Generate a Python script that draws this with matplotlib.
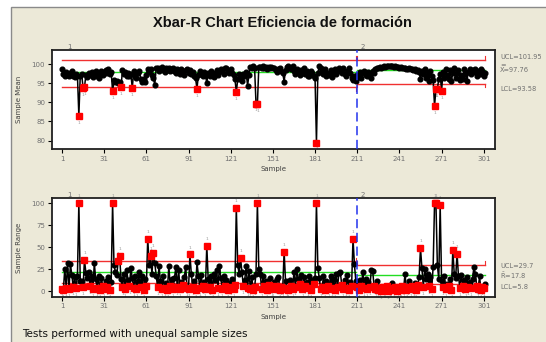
import numpy as np
import matplotlib
matplotlib.use('Agg')
import matplotlib.pyplot as plt
from matplotlib.patches import Rectangle

# subgroup means (samples 1..302), stage 1 = 1..210, stage 2 = 211..302
means = [
    98.6, 97.4, 96.8, 97.9, 97.2, 96.9, 97.6, 98.1, 97.0, 96.6,
    97.3, 96.9, 86.5, 97.0, 97.4, 93.8, 93.9, 97.2, 96.7, 97.8,
    97.1, 98.0, 96.6, 97.5, 98.2, 97.0, 96.4, 97.7, 98.3, 97.1,
    97.9, 98.4, 97.6, 98.6, 97.3, 97.9, 92.9, 95.8, 95.2, 95.6,
    95.0, 95.4, 93.9, 98.4, 97.3, 98.0, 96.8, 97.7, 96.9, 97.5,
    93.7, 98.1, 97.0, 96.5, 97.6, 98.2, 96.2, 95.4, 96.0, 95.3,
    97.2, 98.6, 97.9, 98.8, 97.1, 96.3, 94.6, 98.9, 99.1, 98.3,
    98.7, 99.2, 98.4, 98.0, 98.9, 98.5, 99.0, 98.2, 98.7, 99.1,
    98.3, 97.6, 98.8, 98.1, 97.4, 98.6, 97.9, 97.2, 98.4, 98.8,
    97.7, 98.5, 97.3, 98.0, 96.9, 96.4, 93.5, 97.1, 98.2, 97.4,
    96.8, 97.9, 97.2, 95.0, 97.6, 96.9, 98.1, 97.3, 96.7, 97.8,
    98.4, 97.2, 97.9, 98.7, 98.1, 97.5, 98.9, 99.0, 98.3, 97.6,
    98.6, 97.8, 97.1, 96.2, 92.7, 96.0, 97.3, 96.3, 95.6, 97.4,
    96.8, 97.9, 94.4, 97.1, 99.3, 99.1, 99.4, 99.0, 89.7, 89.6,
    99.2, 99.3, 98.9, 99.4, 99.1, 99.2, 98.8, 99.3, 99.0, 99.2,
    98.9, 99.1, 98.4, 98.0, 98.7, 99.0, 98.2, 97.8, 95.4, 98.5,
    99.3, 99.5, 99.1, 98.6, 99.4, 98.2, 97.5, 98.8, 98.0, 97.2,
    98.4, 97.7, 98.9, 97.4, 98.1, 97.0, 96.9, 98.3, 97.6, 96.8,
    96.5, 79.5, 97.6, 99.6, 98.9, 98.2, 97.3, 98.6, 96.9, 97.8,
    97.1, 98.4, 96.7, 97.9, 98.8, 97.3, 98.1, 99.0, 98.5, 97.6,
    98.9, 97.4, 96.8, 98.2, 99.1, 97.7, 96.3, 95.8, 97.0, 95.6,
    97.2, 96.6, 97.9, 96.4, 97.6, 98.3, 97.1, 96.8, 98.0, 97.4,
    96.5, 98.1, 97.8, 98.6, 98.9, 99.1, 99.2, 99.0, 99.3, 99.4,
    99.3, 99.5, 99.4, 99.5, 99.4, 99.5, 99.3, 99.4, 99.2, 99.3,
    99.1, 99.2, 99.0, 98.9, 99.0, 98.8, 98.7, 98.9, 98.6, 98.7,
    98.5, 98.6, 98.2, 98.4, 97.9, 96.0, 98.3, 97.5, 98.6, 96.4,
    97.8, 95.6, 98.1, 96.9, 95.8, 89.0, 93.6, 93.4, 96.2, 97.5,
    93.0, 97.9, 96.5, 98.8, 97.2, 96.0, 98.5, 95.7, 97.6, 98.9,
    96.3, 97.8, 98.4, 95.9, 97.1, 96.2, 98.6, 97.4, 95.5, 98.0,
    98.7, 97.3, 98.5, 97.9, 98.8, 96.8, 98.1, 97.5, 98.6, 98.2,
    97.0, 97.6,
]

# subgroup ranges
ranges = [
    3, 2, 26, 4, 32, 3, 31, 19, 5, 16,
    4, 18, 100, 12, 12, 5, 36, 21, 15, 22,
    6, 18, 3, 32, 14, 4, 17, 2, 15, 6,
    3, 12, 5, 16, 2, 11, 100, 30, 22, 19,
    35, 40, 14, 5, 20, 3, 24, 13, 6, 27,
    15, 4, 18, 3, 12, 22, 5, 17, 2, 14,
    6, 60, 30, 40, 20, 44, 32, 18, 5, 29,
    12, 3, 17, 4, 10, 2, 29, 6, 14, 3,
    15, 28, 5, 24, 3, 11, 7, 16, 28, 4,
    3, 42, 20, 5, 12, 2, 33, 18, 4, 19,
    6, 11, 3, 52, 14, 5, 17, 2, 20, 13,
    24, 4, 29, 15, 3, 18, 6, 13, 2, 10,
    5, 14, 3, 7, 95, 30, 20, 38, 22, 6,
    13, 29, 4, 23, 3, 16, 2, 5, 20, 100,
    25, 20, 3, 17, 6, 12, 2, 7, 15, 4,
    3, 11, 6, 14, 16, 2, 5, 3, 45, 12,
    4, 2, 13, 6, 3, 22, 5, 26, 14, 8,
    19, 3, 16, 6, 11, 4, 17, 2, 13, 9,
    15, 100, 27, 15, 3, 5, 17, 2, 12, 6,
    3, 18, 4, 14, 2, 20, 5, 21, 22, 7,
    3, 13, 4, 19, 2, 11, 6, 60, 31, 12,
    5, 2, 13, 6, 22, 4, 14, 3, 11, 5,
    24, 23, 6, 3, 12, 2, 4, 1, 5, 3,
    2, 6, 1, 4, 3, 10, 2, 5, 1, 3,
    4, 2, 6, 3, 20, 2, 5, 12, 3, 6,
    4, 10, 2, 7, 16, 49, 27, 5, 26, 14,
    20, 6, 16, 3, 28, 100, 100, 30, 14, 98,
    12, 5, 17, 3, 9, 6, 14, 2, 47, 20,
    15, 43, 18, 4, 19, 6, 13, 3, 16, 5,
    11, 4, 14, 28, 20, 6, 3, 17, 2, 5,
    4, 9,
]

stage_end = 210
xbar_ucl = [101.2, 101.2]
xbar_cl = [97.9, 98.4]
xbar_lcl = [94.0, 94.9]
r_ucl = [34.2, 30.4]
r_cl = [22.0, 19.0]
r_lcl = [9.5, 8.4]

xticks = [1, 31, 61, 91, 121, 151, 181, 211, 241, 271, 301]

samples = np.arange(1, len(means) + 1)
stage = np.where(samples <= stage_end, 0, 1)
segments = [(1, stage_end), (stage_end + 1, len(samples))]

BEIGE = '#ECE9D8'
GRAY = '#707070'


def draw_chart(ax, vals, ucl, cl, lcl, ylim, yticks, ylabel):
    vals = np.array(vals, dtype=float)
    hi = vals > np.array(ucl)[stage]
    lo = vals < np.array(lcl)[stage]
    bad = hi | lo
    ax.plot(samples, vals, color='black', lw=1.1, zorder=3)
    ax.plot(samples[~bad], vals[~bad], 'o', color='black', ms=3.4, zorder=4)
    ax.plot(samples[bad], vals[bad], 's', color='red', ms=3.9, zorder=5)
    for s, v, up in zip(samples[bad], vals[bad], hi[bad]):
        ax.annotate('1', (s, v), xytext=(0, 5 if up else -5), textcoords='offset points',
                    fontsize=3.2, color='#999999', ha='center', va='center', zorder=2)

    tick = (ylim[1] - ylim[0]) * 0.035
    for i, (x0, x1) in enumerate(segments):
        ax.plot([x0, x1], [ucl[i], ucl[i]], color='#F03030', lw=1.0, zorder=2)
        ax.plot([x0, x1], [lcl[i], lcl[i]], color='#F03030', lw=1.0, zorder=2)
        ax.plot([x0, x1], [cl[i], cl[i]], color='#22DD22', lw=1.0, zorder=2)
        if i > 0:
            ax.plot([x0, x0], [ucl[i], ucl[i] + tick], color='#F03030', lw=0.8)
            ax.plot([x0, x0], [lcl[i], lcl[i] - tick], color='#F03030', lw=0.8)
        ax.plot([x1, x1], [ucl[i], ucl[i] + tick], color='#F03030', lw=0.8)
        ax.plot([x1, x1], [lcl[i], lcl[i] - tick], color='#F03030', lw=0.8)

    ax.axvline(stage_end + 0.5, color='#2233EE', lw=1.1, ls=(0, (6, 3)), zorder=6)
    ax.text(6, ylim[1], '1', fontsize=5, color=GRAY, ha='center', va='bottom')
    ax.text(stage_end + 5, ylim[1], '2', fontsize=5, color=GRAY, ha='center', va='bottom')

    ax.set_xlim(-6.1, 309)
    ax.set_ylim(*ylim)
    ax.set_xticks(xticks)
    ax.set_yticks(yticks)
    ax.tick_params(labelsize=5, labelcolor=GRAY, length=3, width=0.8, pad=2)
    ax.set_xlabel('Sample', fontsize=5, color='#404040', labelpad=3)
    ax.set_ylabel(ylabel, fontsize=5, color='#404040')
    ax.yaxis.set_label_coords(-30 / 443, 0.5)
    for sp in ax.spines.values():
        sp.set_linewidth(1.3)
        sp.set_color('#202020')
    ax.set_facecolor('white')


fig = plt.figure(figsize=(5.46, 3.42), dpi=100)
fig.patch.set_facecolor('white')
panel = Rectangle((11 / 546, -0.1), 1.2, 1 - 7 / 342 + 0.1, transform=fig.transFigure,
                  facecolor=BEIGE, edgecolor='#8A8A8A', lw=1.0, zorder=-10)
fig.patches.append(panel)

ax1 = fig.add_axes([52 / 546, 1 - 149 / 342, 443 / 546, 99 / 342])
ax2 = fig.add_axes([52 / 546, 1 - 296.5 / 342, 443 / 546, 98.2 / 342])

draw_chart(ax1, means, xbar_ucl, xbar_cl, xbar_lcl, (77.8, 103.7), [80, 85, 90, 95, 100], 'Sample Mean')
draw_chart(ax2, ranges, r_ucl, r_cl, r_lcl, (-5.7, 105.7), [0, 25, 50, 75, 100], 'Sample Range')

fig.text(282 / 546, 1 - 23 / 342, 'Xbar-R Chart Eficiencia de formación', ha='center', va='center',
         fontsize=10.5, fontweight='bold', family=['Liberation Sans', 'DejaVu Sans'], color='#111111')

lab = dict(fontsize=4.8, color=GRAY, ha='left', va='center')
fig.text(500 / 546, 1 - 57 / 342, 'UCL=101.95', **lab)
fig.text(500 / 546, 1 - 65 / 342, '=', **lab)
fig.text(500 / 546, 1 - 70 / 342, 'X=97.76', **lab)
fig.text(500 / 546, 1 - 89 / 342, 'LCL=93.58', **lab)
fig.text(500 / 546, 1 - 265.7 / 342, 'UCL=29.7', **lab)
fig.text(500 / 546, 1 - 275.7 / 342, r'$\bar{\mathrm{R}}$=17.8', **lab)
fig.text(500 / 546, 1 - 286.7 / 342, 'LCL=5.8', **lab)

fig.text(22 / 546, 1 - 334 / 342, 'Tests performed with unequal sample sizes', fontsize=7.5,
         color='#111111', ha='left', va='center')

fig.savefig('out.png', dpi=100, facecolor=fig.get_facecolor())
